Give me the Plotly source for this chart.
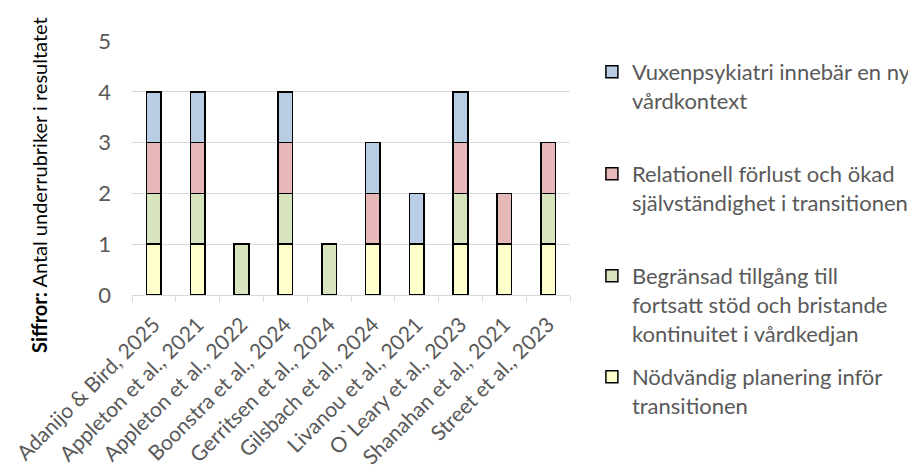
import plotly.graph_objects as go

categories = ["Adanijo & Bird, 2025", "Appleton et al., 2021", "Appleton et al., 2022",
              "Boonstra et al., 2024", "Gerritsen et al., 2024", "Gilsbach et al., 2024",
              "Livanou et al., 2021", "O`Leary et al., 2023", "Shanahan et al., 2021",
              "Street et al., 2023"]

planering = [1, 1, None, 1, None, 1, 1, 1, 1, 1]
tillgang = [1, 1, 1, 1, 1, None, None, 1, None, 1]
relationell = [1, 1, None, 1, None, 1, None, 1, 1, 1]
vuxen = [1, 1, None, 1, None, 1, 1, 1, None, None]

names = [
    "Nödvändig planering inför<br>transitionen",
    "Begränsad tillgång till<br>fortsatt stöd och bristande<br>kontinuitet i vårdkedjan",
    "Relationell förlust och ökad<br>självständighet i transitionen",
    "Vuxenpsykiatri innebär en ny<br>vårdkontext",
]
colors = ["#FFFFCC", "#D7E4BD", "#E6B9B8", "#B9CDE5"]
series = [planering, tillgang, relationell, vuxen]
legends = ["legend4", "legend3", "legend2", "legend"]

fig = go.Figure()
for name, vals, col, lg in zip(names, series, colors, legends):
    fig.add_trace(go.Bar(
        x=categories, y=vals, name=name,
        marker=dict(color=col, line=dict(color="black", width=1.5)),
        legend=lg, showlegend=True,
    ))

font_family = "Lato, 'Open Sans', sans-serif"
gray = "#595959"

legend_style = dict(
    x=1.050, xanchor="left", yanchor="top", valign="top",
    font=dict(family=font_family, size=22, color=gray),
    bgcolor="rgba(0,0,0,0)", itemclick=False, itemdoubleclick=False,
)

# paper y from reference pixel row: 0 at px 295, 1 at px 41 (254 px tall)
def py(px):
    return (295 - px) / 254

# the page body adds an 8 px offset, so the figure is drawn 8 px smaller
fig.update_layout(
    width=908, height=464,
    margin=dict(l=124, r=346, t=33, b=177, autoexpand=False),
    paper_bgcolor="white", plot_bgcolor="white",
    barmode="stack", bargap=0.665, showlegend=True,
    font=dict(family=font_family, color=gray),
    legend=dict(**legend_style, y=py(51)),
    legend2=dict(**legend_style, y=py(153)),
    legend3=dict(**legend_style, y=py(255)),
    legend4=dict(**legend_style, y=py(356)),
    xaxis=dict(
        tickangle=-45, tickfont=dict(family=font_family, size=21, color=gray),
        showline=True, linecolor="#D9D9D9", linewidth=1,
        ticks="outside", tickson="boundaries", ticklen=6, tickcolor="#D9D9D9",
        showgrid=False, automargin=False, ticklabelstandoff=8,
    ),
    yaxis=dict(
        range=[0, 5], dtick=1, tick0=0,
        tickfont=dict(family=font_family, size=22, color=gray),
        showgrid=True, gridcolor="#D9D9D9", gridwidth=1,
        zeroline=False, showline=False, ticks="", ticklabelstandoff=20,
        automargin=False,
    ),
    annotations=[dict(
        text="<b>S</b><b>iffror:</b> Antal underrubriker i resultatet",
        xref="paper", yref="paper", x=(39 - 132) / 438, y=py(185),
        xanchor="center", yanchor="middle", textangle=-90, showarrow=False,
        font=dict(family=font_family, size=20, color="black"),
    )],
)

fig.write_html("out.html")
